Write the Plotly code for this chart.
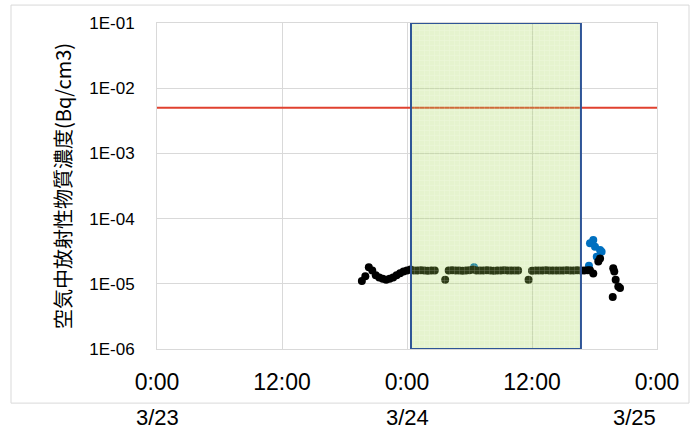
import pandas as pd
import plotly.graph_objects as go

# ---- data -------------------------------------------------------------
# main series, sampled every 20 minutes (None = no measurement)
main_start = "2011-03-23 19:40"
main_vals = [
    1.1e-5, 1.3e-5, 1.8e-5, 1.6e-5, 1.35e-5, 1.25e-5, 1.2e-5, 1.15e-5,   # 19:40-22:00
    1.2e-5, 1.25e-5, 1.35e-5, 1.45e-5, 1.55e-5, 1.6e-5, 1.65e-5, 1.6e-5,  # 22:20-00:40
    1.6e-5, 1.62e-5, 1.6e-5, 1.58e-5, 1.6e-5, 1.6e-5, None, None,         # 01:00-03:20
    1.15e-5, 1.6e-5, 1.62e-5, 1.6e-5, 1.6e-5, 1.58e-5, 1.6e-5, 1.62e-5,   # 03:40-06:00
    1.65e-5, 1.6e-5, 1.6e-5, 1.6e-5, 1.62e-5, 1.6e-5, 1.58e-5, 1.6e-5,    # 06:20-08:40
    1.6e-5, 1.62e-5, 1.6e-5, 1.6e-5, 1.6e-5, 1.6e-5, None, None,          # 09:00-11:20
    1.15e-5, 1.58e-5, 1.6e-5, 1.6e-5, 1.6e-5, 1.62e-5, 1.6e-5, 1.6e-5,    # 11:40-14:00
    1.6e-5, 1.6e-5, 1.6e-5, 1.62e-5, 1.6e-5, 1.6e-5, 1.62e-5, 1.6e-5,     # 14:20-16:40
]
main_times = pd.date_range(main_start, periods=len(main_vals), freq="20min")

# late readings of the same series
tail_times = pd.to_datetime([
    "2011-03-24 17:00", "2011-03-24 17:20", "2011-03-24 17:34", "2011-03-24 17:53",
    "2011-03-24 18:22", "2011-03-24 18:32", "2011-03-24 19:45", "2011-03-24 19:48",
    "2011-03-24 19:54", "2011-03-24 20:02", "2011-03-24 20:17", "2011-03-24 20:27",
])
tail_vals = [1.6e-5, 1.62e-5, 1.62e-5, 1.44e-5,
             2.2e-5, 2.45e-5, 6.3e-6, 1.73e-5,
             1.55e-5, 1.15e-5, 9.1e-6, 8.6e-6]

# second series (blue)
blue_times = pd.to_datetime([
    "2011-03-24 06:26", "2011-03-24 17:28", "2011-03-24 17:34", "2011-03-24 17:53",
    "2011-03-24 18:03", "2011-03-24 18:13", "2011-03-24 18:32", "2011-03-24 18:41",
])
blue_vals = [1.8e-5, 1.9e-5, 4.2e-5, 4.7e-5, 3.7e-5, 2.6e-5, 3.3e-5, 3.1e-5]

# reference level
limit_value = 5e-3

# highlighted time window
window_start = "2011-03-24 00:23"
window_end = "2011-03-24 16:42"

# axes
x_start, x_end = "2011-03-23 00:00", "2011-03-25 00:00"
x_tick_vals = pd.date_range(x_start, x_end, freq="12h")
x_tick_text = ["0:00", "12:00", "0:00", "12:00", "0:00"]
date_label_vals = pd.to_datetime(["2011-03-23", "2011-03-24", "2011-03-25"])
date_label_text = ["3/23", "3/24", "3/25"]
date_label_anchor = ["center", "center", "right"]
y_tick_vals = [1e-1, 1e-2, 1e-3, 1e-4, 1e-5, 1e-6]
y_tick_text = ["1E-01", "1E-02", "1E-03", "1E-04", "1E-05", "1E-06"]
y_title = "空気中放射性物質濃度(Bq/cm3)"

# ---- figure -----------------------------------------------------------
fig = go.Figure()

fig.add_trace(go.Scatter(
    x=blue_times, y=blue_vals, mode="markers",
    marker=dict(color="#0070C0", size=8), showlegend=False))

fig.add_trace(go.Scatter(
    x=main_times, y=main_vals, mode="markers",
    marker=dict(color="#000000", size=8), showlegend=False))

fig.add_trace(go.Scatter(
    x=tail_times, y=tail_vals, mode="markers",
    marker=dict(color="#000000", size=8), showlegend=False))

fig.add_trace(go.Scatter(
    x=[x_start, x_end], y=[limit_value, limit_value], mode="lines",
    line=dict(color="#E0412F", width=2), showlegend=False))

# translucent window with a fine grid texture
fig.add_trace(go.Scatter(
    x=[window_start, window_start, window_end, window_end, window_start],
    y=[1e-6, 1e-1, 1e-1, 1e-6, 1e-6],
    mode="lines", fill="toself",
    fillcolor="rgba(160,210,80,0.28)",
    fillpattern=dict(shape="+", size=5, solidity=0.15,
                     bgcolor="rgba(160,210,80,0.28)",
                     fgcolor="rgba(255,255,255,1)", fgopacity=0.35),
    line=dict(color="#2F5597", width=2), showlegend=False))

# outer chart frame
fig.add_shape(type="rect", xref="paper", yref="paper",
              x0=-0.292, x1=1.064, y0=-0.166, y1=1.055,
              line=dict(color="#D9D9D9", width=1), layer="below")

for xv, txt, anc in zip(date_label_vals, date_label_text, date_label_anchor):
    fig.add_annotation(x=xv, y=-0.209, xref="x", yref="paper",
                       text=txt, showarrow=False, yanchor="middle", xanchor=anc,
                       borderpad=0,
                       font=dict(family="Liberation Sans", size=22, color="#000000"))

fig.update_layout(
    width=691, height=433,
    margin=dict(l=157, r=34, t=23, b=84),
    paper_bgcolor="white", plot_bgcolor="white",
)

fig.update_xaxes(
    type="date", range=[x_start, x_end],
    tickvals=x_tick_vals, ticktext=x_tick_text,
    showgrid=True, gridcolor="#D9D9D9", gridwidth=1,
    showline=True, linecolor="#D9D9D9", mirror=True,
    ticks="", ticklabelstandoff=12, zeroline=False,
    tickfont=dict(family="Liberation Sans", size=23, color="#000000"),
)

fig.update_yaxes(
    type="log", range=[-6, -1],
    tickvals=y_tick_vals, ticktext=y_tick_text,
    showgrid=True, gridcolor="#D9D9D9", gridwidth=1,
    showline=True, linecolor="#D9D9D9", mirror=True,
    ticks="", ticklabelstandoff=18, zeroline=False,
    tickfont=dict(family="Liberation Sans", size=17, color="#000000"),
    title=dict(text=y_title, standoff=12,
               font=dict(family="Noto Sans CJK JP", size=20, color="#000000")),
)

fig.write_html("out.html")
